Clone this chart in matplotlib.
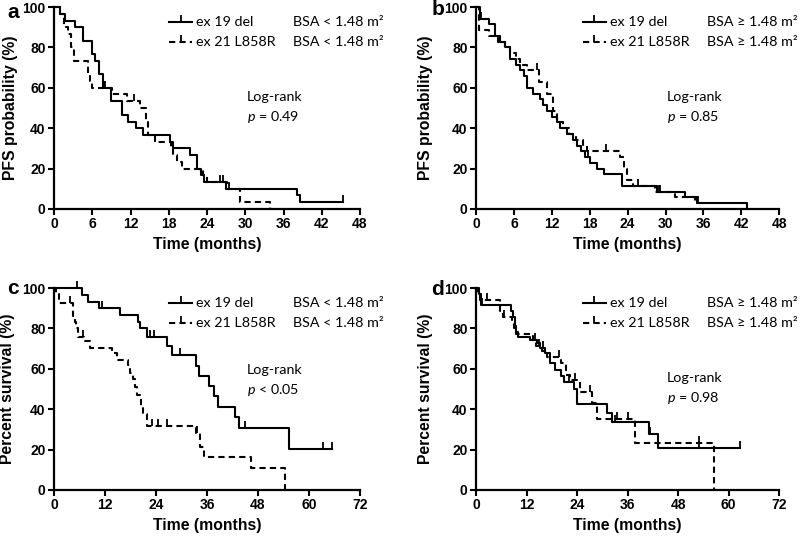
import numpy as np
import matplotlib
matplotlib.use("Agg")
import matplotlib.pyplot as plt

# =====================================================
# Data (step times in months, % after each drop)
# =====================================================
# a: PFS, BSA < 1.48
a_del_t = [0, 0.9, 1.7, 3.3, 4.6, 5.9, 6.4, 7.0, 7.7, 9.0, 10.6, 11.6, 12.9, 14.0, 18.2,
           18.7, 21.3, 22.5, 23.0, 23.6, 27.0, 38.1, 38.6, 45.4]
a_del_s = [100, 96.7, 93.3, 90, 83.3, 76.7, 73.3, 66.7, 60, 53.3, 46.7, 43.3, 40, 36.7, 33.3,
           30, 26.7, 20, 16.7, 13.3, 10, 6.7, 3.3, 3.3]
a_del_c = [8.0, 26.5, 45.4]
a_l858_t = [0, 0.9, 1.6, 2.2, 2.6, 3.2, 5.3, 5.6, 6.0, 9.1, 11.5, 13.5, 14.4, 14.8, 15.8,
            18.3, 18.7, 19.3, 20.0, 23.3, 24.0, 27.1, 29.2, 33.9]
a_l858_s = [100, 96.7, 90, 86.7, 80, 73.3, 66.7, 63.3, 60, 56.7, 53.3, 50, 43.3, 36.7, 33.3,
            30, 26.7, 23.3, 20, 16.7, 13.3, 10, 3.3, 0]
a_l858_c = [7.8, 12.5, 15.9, 26.0, 27.5]

# b: PFS, BSA >= 1.48
b_del_t = [0, 0.6, 2.1, 3.0, 3.8, 4.6, 5.4, 6.4, 7.0, 7.6, 8.0, 9.1, 10.1, 10.6, 11.2, 12.0,
           12.8, 13.3, 14.4, 15.4, 16.0, 16.7, 17.3, 18.1, 19.1, 20.2, 23.1, 28.6, 33.1, 35.0, 42.9]
b_del_s = [100, 94.3, 91.4, 85.7, 82.9, 80, 74.3, 71.4, 68.6, 65.7, 60, 57.1, 54.3, 51.4, 48.6,
           45.7, 42.9, 40, 37.1, 34.3, 31.4, 28.6, 25.7, 22.9, 20, 17.1, 11.4, 8.6, 5.7, 2.9, 0]
b_del_c = [0.8, 17.8, 29.0]
b_l858_t = [0, 0.5, 2.1, 3.5, 4.6, 5.4, 6.4, 7.0, 8.0, 9.9, 11.2, 12.2, 12.8, 13.8, 14.8, 15.9,
            17.0, 17.6, 22.8, 23.4, 23.9, 24.9, 28.4, 31.5, 34.7, 35.7]
b_l858_s = [100, 88.6, 85.7, 82.9, 80, 77.1, 74.3, 71.4, 68.6, 62.9, 57.1, 48.6, 42.9, 40, 37.1,
            34.3, 31.4, 28.6, 25.7, 20, 14.3, 11.4, 8.6, 5.7, 2.9, 0]
b_l858_c = [9.6, 20.6, 25.7, 29.2, 35.2]

# c: OS, BSA < 1.48
c_del_t = [0, 6.5, 8.1, 10.5, 15.6, 19.8, 20.3, 21.8, 26.6, 27.8, 33.3, 34.2, 36.4, 37.6, 38.7,
           42.6, 43.5, 55.3, 65.3]
c_del_s = [100, 96.7, 93.3, 90, 86.7, 83.3, 80, 76, 71.5, 67, 61.5, 56.5, 51.5, 46.3, 41,
           36, 30.8, 20.5, 20.5]
c_del_c = [5.3, 11.2, 22.5, 23.5, 29.7, 45.0, 63.3, 65.3]
c_l858_t = [0, 0.5, 1.2, 4.5, 4.9, 5.2, 5.6, 7.0, 8.5, 13.6, 14.8, 17.4, 17.9, 18.5, 19.1, 19.5,
            20.5, 20.9, 21.8, 33.3, 34.4, 35.2, 46.3, 54.4]
c_l858_s = [100, 97, 92.4, 86, 83, 80, 76, 74, 70.3, 67.7, 64.4, 62, 58, 55, 51, 47,
            41, 37.5, 31.5, 28, 21.5, 16.5, 11, 0]
c_l858_c = [3.8, 6.8, 23.0, 24.5, 26.5, 33.7]

# d: OS, BSA >= 1.48
d_del_t = [0, 0.6, 1.2, 8.4, 8.8, 9.2, 9.6, 10.0, 12.9, 14.5, 15.3, 16.4, 17.5, 18.7, 20.2,
           21.0, 23.2, 24.0, 31.0, 32.2, 41.0, 43.3, 62.7]
d_del_s = [100, 97, 91.6, 88.6, 85.5, 81.4, 78, 75.9, 74.3, 72.6, 70.1, 67.7, 62.7, 59.4, 56.5,
           53.6, 50.2, 42.8, 38, 33.7, 27.5, 20.6, 20.6]
d_del_c = [1.5, 14.0, 16.0, 22.0, 33.0, 41.3, 53.0, 62.7]
d_l858_t = [0, 0.5, 1.0, 5.8, 6.4, 8.5, 9.0, 9.5, 13.5, 14.3, 15.6, 16.8, 20.3, 21.3, 22.3,
            24.7, 27.5, 28.7, 37.8, 56.4]
d_l858_s = [100, 97.1, 94.3, 88.6, 85.7, 82.9, 80, 77.1, 74.3, 71.4, 68.6, 65.7, 62.9, 57.1, 54.3,
            48.6, 42.9, 35.1, 23.4, 0]
d_l858_c = [2.5, 6.6, 15.0, 19.8, 23.5, 27.0, 33.4, 36.2, 53.0]

panel_letters = ["a", "b", "c", "d"]
ylabels = ["PFS probability (%)", "PFS probability (%)", "Percent survival (%)", "Percent survival (%)"]
bsa_text = ["BSA < 1.48 m\u00b2", "BSA \u2265 1.48 m\u00b2", "BSA < 1.48 m\u00b2", "BSA \u2265 1.48 m\u00b2"]
pvals = ["= 0.49", "= 0.85", "< 0.05", "= 0.98"]
xmax = [48, 48, 72, 72]
xstep = [6, 6, 12, 12]
series_names = ["ex 19 del", "ex 21 L858R"]

curves = [
    [(a_del_t, a_del_s, a_del_c), (a_l858_t, a_l858_s, a_l858_c)],
    [(b_del_t, b_del_s, b_del_c), (b_l858_t, b_l858_s, b_l858_c)],
    [(c_del_t, c_del_s, c_del_c), (c_l858_t, c_l858_s, c_l858_c)],
    [(d_del_t, d_del_s, d_del_c), (d_l858_t, d_l858_s, d_l858_c)],
]

# =====================================================
# Style
# =====================================================
plt.rcParams["font.family"] = ["Liberation Sans", "DejaVu Sans"]
plt.rcParams["mathtext.fontset"] = "custom"
plt.rcParams["mathtext.it"] = "Lato:italic"
plt.rcParams["mathtext.rm"] = "Lato"
note_font = ["Lato", "DejaVu Sans"]
note_size = 10.3
lw = 1.5
dash = (3, 2)

fig = plt.figure(figsize=(8, 5.4), dpi=100)
positions = [
    [0.0675, 0.613, 0.3825, 0.374],
    [0.595, 0.613, 0.379, 0.374],
    [0.0675, 0.0926, 0.3825, 0.374],
    [0.595, 0.0926, 0.379, 0.374],
]
letter_pos = [(0.009, 0.976), (0.539, 0.982), (0.009, 0.465), (0.539, 0.463)]
ylab_x = [-0.118, -0.142, -0.127, -0.142]
logrank_y = [0.554, 0.554, 0.594, 0.553]

for i in range(4):
    ax = fig.add_axes(positions[i])
    for k, (t, s, cens) in enumerate(curves[i]):
        t = np.array(t)
        s = np.array(s)
        ls = "-" if k == 0 else (0, dash)
        ax.step(t, s, where="post", color="black", lw=lw, linestyle=ls,
                clip_on=False, zorder=3)
        idx = np.searchsorted(t, cens, side="right") - 1
        ax.plot(cens, s[idx], ls="none", marker=2, ms=5, mew=1.3,
                color="black", clip_on=False, zorder=3)

    ax.set_xlim(0, xmax[i])
    ax.set_ylim(0, 100)
    ax.set_xticks(np.arange(0, xmax[i] + 1, xstep[i]))
    ax.set_yticks(np.arange(0, 101, 20))
    for sp in ["top", "right"]:
        ax.spines[sp].set_visible(False)
    for sp in ["left", "bottom"]:
        ax.spines[sp].set_linewidth(1.6)
    ax.tick_params(direction="out", length=4, width=1.5, labelsize=10, pad=2)
    for lab in ax.get_xticklabels() + ax.get_yticklabels():
        lab.set_fontweight("bold")
    ax.set_xlabel("Time (months)", fontsize=11.3, fontweight="bold", labelpad=4)
    ax.set_ylabel(ylabels[i], fontsize=11.3, fontweight="bold")
    ax.yaxis.set_label_coords(ylab_x[i], 0.5)

    # legend rows drawn by hand: line sample with censor tick, name, BSA group
    lx0 = 0.376 if i in (0, 2) else 0.353
    lx1 = lx0 + 0.075
    tx = lx1 + 0.013
    bx = 0.781 if i in (0, 2) else 0.761
    rows = [0.925, 0.825]
    for k in range(2):
        ls = "-" if k == 0 else (0, dash)
        ax.plot([lx0, lx1], [rows[k], rows[k]], transform=ax.transAxes, color="black",
                lw=lw, linestyle=ls, clip_on=False)
        ax.plot([(lx0 + lx1) / 2], [rows[k]], transform=ax.transAxes, marker=2, ms=5,
                mew=1.3, color="black", clip_on=False)
        ax.text(tx, rows[k], series_names[k], transform=ax.transAxes, fontsize=note_size,
                family=note_font, va="center", ha="left")
        ax.text(bx, rows[k], bsa_text[i], transform=ax.transAxes, fontsize=note_size,
                family=note_font, va="center", ha="left", clip_on=False)

    ax.text(0.630, logrank_y[i], "Log-rank", transform=ax.transAxes, fontsize=note_size,
            family=note_font, va="center", ha="left")
    ax.text(0.630, logrank_y[i] - 0.097, "$p$ " + pvals[i], transform=ax.transAxes,
            fontsize=note_size, family=note_font, va="center", ha="left")

    fig.text(letter_pos[i][0], letter_pos[i][1], panel_letters[i], fontsize=15,
             fontweight="bold", va="center", ha="left")

fig.savefig("out.png", dpi=100)
